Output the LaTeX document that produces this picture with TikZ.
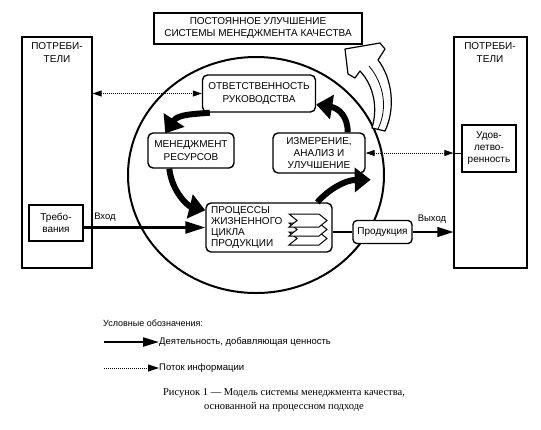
\documentclass[tikz,border=0pt]{standalone}
\usepackage{fontspec}
\setmainfont{Liberation Sans}
\newfontfamily\capfont{Liberation Serif}
\usetikzlibrary{arrows.meta}
\begin{document}
\begin{tikzpicture}[x=1pt,y=-1pt,
  txt/.style={font=\fontsize{10}{12}\selectfont, align=center, inner sep=0pt},
  sq/.style={draw, line width=1.3pt, fill=white, inner sep=0pt},
  rb/.style={draw, line width=1.4pt, rounded corners=5pt, fill=white, inner sep=0pt, align=center, font=\fontsize{10}{12.5}\selectfont},
  bigarr/.style={line width=6pt, -{Triangle[length=16pt,width=24pt]}},
  flow/.style={line width=2.5pt, -{Triangle[length=20pt,width=12pt]}},
  info/.style={line width=1pt, dash pattern=on 1pt off 1pt},
  chev/.style={draw, line width=1pt, fill=white, line join=miter},
]
\useasboundingbox (0,0) rectangle (541,429);

% main cycle
\draw[line width=2pt] (256,175) ellipse [x radius=128pt, y radius=118pt];

% hollow improvement arrow
\draw[line width=1.2pt, fill=white, line join=round]
  (345,49) -- (380,43) -- (385,49) -- (378,60)
  .. controls (392,78) and (396,108) .. (385,131)
  -- (372,128)
  .. controls (378,108) and (374,86) .. (360,71)
  -- (355,78) -- (348,74) -- cycle;
\draw[line width=0.8pt] (369,66) .. controls (384,84) and (388,108) .. (378,129);

% top box
\node[sq, line width=1.6pt, minimum width=208pt, minimum height=31pt, txt] (imp) at (258,28.5)
  {ПОСТОЯННОЕ УЛУЧШЕНИЕ\\СИСТЕМЫ МЕНЕДЖМЕНТА КАЧЕСТВА};

% customers
\node[sq, minimum width=70pt, minimum height=231pt] (lcust) at (57,152.5) {};
\node[txt, font=\fontsize{10}{13}\selectfont] (lcustt) at (57,53) {ПОТРЕБИ-\\ТЕЛИ};
\node[sq, minimum width=54pt, minimum height=36pt, txt] (req) at (56,223) {Требо-\\вания};

\node[sq, minimum width=73pt, minimum height=231pt] (rcust) at (490.5,152.5) {};
\node[txt, font=\fontsize{10}{13}\selectfont] (rcustt) at (490,53) {ПОТРЕБИ-\\ТЕЛИ};
\node[sq, minimum width=54pt, minimum height=47pt, txt] (sat) at (489,148.5) {Удов-\\летво-\\ренность};

% process boxes
\node[rb, minimum width=113pt, minimum height=37pt] (resp) at (259,93.5) {ОТВЕТСТВЕННОСТЬ\\РУКОВОДСТВА};
\node[rb, minimum width=86pt, minimum height=35pt] (res) at (191,150.5) {МЕНЕДЖМЕНТ\\РЕСУРСОВ};
\node[rb, minimum width=92pt, minimum height=40pt, font=\fontsize{10}{12.3}\selectfont] (meas) at (319,153) {ИЗМЕРЕНИЕ,\\АНАЛИЗ И\\УЛУЧШЕНИЕ};
\node[rb, minimum width=126pt, minimum height=49pt] (proc) at (269,227.5) {};
\node[txt, align=left, anchor=west, font=\fontsize{10}{11.3}\selectfont] (proct) at (211,227.5)
  {ПРОЦЕССЫ\\ЖИЗНЕННОГО\\ЦИКЛА\\ПРОДУКЦИИ};
\foreach \yy in {232,223,214}
  \draw[chev] (289,\yy) -- ++(30,0) -- ++(8,6.5) -- ++(-8,6.5) -- ++(-30,0) -- ++(8,-6.5) -- cycle;
\node[rb, rounded corners=4pt, minimum width=59pt, minimum height=23pt] (prod) at (382.5,232) {Продукция};

% thick cycle arrows
\draw[bigarr] ([xshift=8pt]resp.south west) .. controls (196,114) and (178,114) .. ([xshift=18pt,yshift=-1pt]res.north west);
\draw[bigarr] ([xshift=22pt]res.south west) .. controls (172,192) and (188,206) .. ([yshift=-8pt]proc.north west);
\draw[bigarr] ([xshift=112pt]proc.north west) .. controls (328,190) and (345,180) .. ([xshift=5pt,yshift=-6pt]meas.south east);
\draw[bigarr] ([xshift=-18pt]meas.north east) .. controls (348,116) and (338,108) .. ([yshift=-11pt]resp.east);

% flows
\draw[flow] (req.east |- proc.west) -- (proc.west);
\node[txt, font=\fontsize{9.5}{11}\selectfont] (inl) at (105,217) {Вход};
\draw[line width=1.2pt] (proc.east |- prod.west) -- (prod.west);
\draw[line width=1.2pt, -{Triangle[length=16pt,width=10pt]}] (prod.east) -- (rcust.west |- prod.east);
\node[txt, font=\fontsize{9.5}{11}\selectfont] (outl) at (432,219) {Выход};

% information flows
\draw[info, {Triangle[length=9pt,width=6pt]}-{Triangle[length=9pt,width=6pt]}] (lcust.east |- resp.west) -- (resp.west);
\coordinate (redge) at (rcust.west |- meas.east);
\draw[info, {Triangle[length=9pt,width=6pt]}-{Triangle[length=9pt,width=6pt]}] (meas.east) -- (redge);
\draw[line width=1pt] (redge) -- (sat.west |- redge);

% legend
\node[txt, anchor=west, font=\fontsize{9}{11}\selectfont] (legt) at (103,323) {Условные обозначения:};
\node[txt, anchor=west, font=\fontsize{9.5}{11}\selectfont] (leg1) at (159,342) {Деятельность, добавляющая ценность};
\node[txt, anchor=west, font=\fontsize{9.5}{11}\selectfont] (leg2) at (159,368) {Поток информации};
\coordinate (l1s) at (104,342);
\coordinate (l2s) at (104,368);
\draw[line width=2.2pt, -{Triangle[length=16pt,width=9pt]}] (l1s) -- (leg1.west);
\draw[info, -{Triangle[length=11pt,width=7pt]}] (l2s) -- (leg2.west);

% caption
\node[txt, font=\capfont\fontsize{10.5}{14}\selectfont] (cap) at (284,400)
  {Рисунок 1 — Модель системы менеджмента качества,\\основанной на процессном подходе};
\end{tikzpicture}
\end{document}
